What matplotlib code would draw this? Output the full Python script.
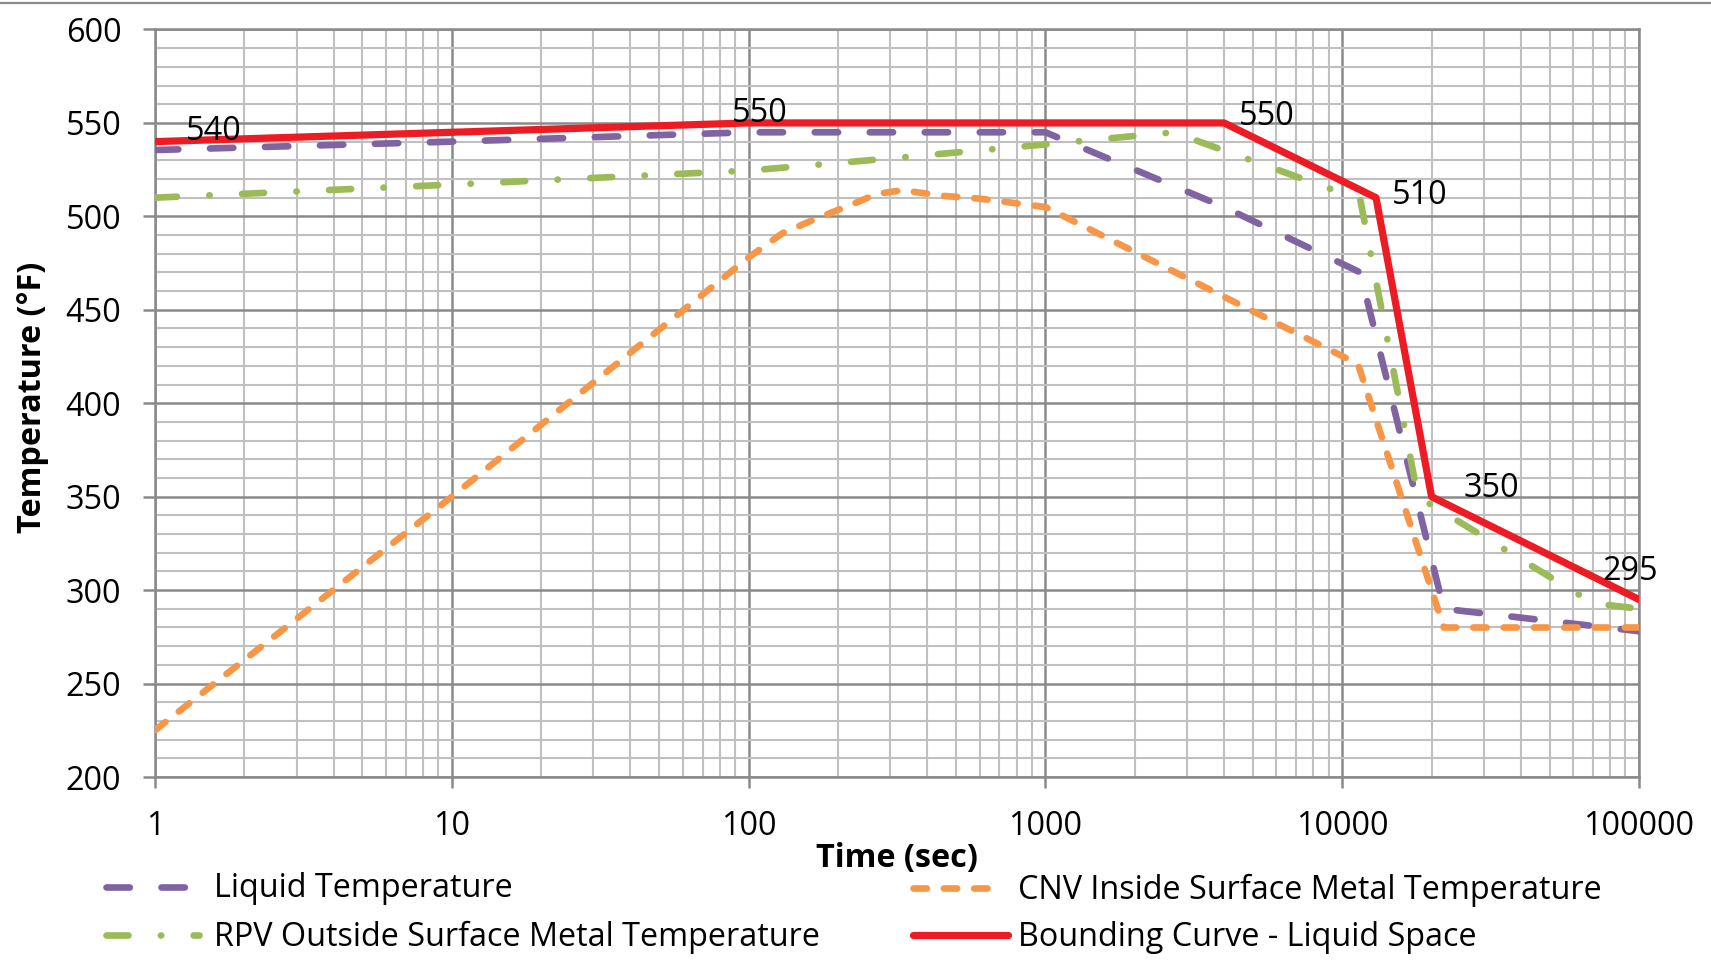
import matplotlib
matplotlib.use("Agg")
import matplotlib.pyplot as plt
from matplotlib.lines import Line2D
from matplotlib.ticker import LogLocator, MultipleLocator, NullFormatter

plt.rcParams['font.family'] = ['Open Sans', 'DejaVu Sans']

# Transient temperatures: time in seconds, temperature in °F
liquid_time = [1, 10, 100, 1000, 4000, 11500, 22000, 100000]
liquid_temp = [535.5, 540, 545, 545, 505, 470, 290, 278]

rpv_time = [1, 10, 100, 300, 1000, 2700, 11500, 18000, 70000, 100000]
rpv_temp = [510, 517, 524.5, 531, 538.5, 545, 509, 350, 293, 290]

cnv_time = [1, 10, 100, 130, 170, 220, 270, 330, 450, 600, 1000, 11300, 22000, 100000]
cnv_temp = [225, 350, 478, 491, 499, 506, 512, 514, 511, 509.5, 505, 421, 280, 280]

bound_time = [1, 100, 4000, 13000, 20000, 100000]
bound_temp = [540, 550, 550, 510, 350, 295]

series_names = ["Liquid Temperature",
                "RPV Outside Surface Metal Temperature",
                "CNV Inside Surface Metal Temperature",
                "Bounding Curve - Liquid Space"]

x_ticks = [1, 10, 100, 1000, 10000, 100000]
x_tick_labels = ["1", "10", "100", "1000", "10000", "100000"]
y_ticks = [200, 250, 300, 350, 400, 450, 500, 550, 600]

W, H = 1711, 972
FS = 23.3
LW = 4.8

fig = plt.figure(figsize=(W / 100, H / 100), dpi=100)
ax = fig.add_axes([155 / W, 1 - 777 / H, (1639 - 155) / W, (777 - 29.5) / H])

styles = {
    "liquid": dict(color="#8064a2", lw=LW, ls=(0, (3.5, 4.75)), dash_capstyle="round"),
    "rpv": dict(color="#9bbb59", lw=LW, ls=(0, (3.3, 4.86, 0.05, 4.86)), dash_capstyle="round"),
    "cnv": dict(color="#f79646", lw=LW, ls=(0, (2.0, 2.55)), dash_capstyle="round"),
    "bound": dict(color="#ed1c24", lw=5.2, ls="-", solid_capstyle="round", solid_joinstyle="round"),
}

ax.plot(liquid_time, liquid_temp, zorder=3, **styles["liquid"])
ax.plot(cnv_time, cnv_temp, zorder=4, **styles["cnv"])
ax.plot(rpv_time, rpv_temp, zorder=5, **styles["rpv"])
ax.plot(bound_time, bound_temp, zorder=6, **styles["bound"])

# value labels on the bounding curve break points
label_offsets = [(22.3, 1.1), (-12.2, 0.9), (10.6, -1.5), (11.7, -4.5), (23.0, 0.0), (-26.6, 14.0)]
for t, v, off in zip(bound_time, bound_temp, label_offsets):
    ax.annotate(f"{v:g}", xy=(t, v), xytext=off, textcoords="offset points",
                ha="left", va="baseline", fontsize=FS, color="black",
                annotation_clip=False, zorder=7)

ax.set_xscale("log")
ax.set_xlim(1, 100000)
ax.set_ylim(200, 600)
ax.set_xticks(x_ticks)
ax.set_xticklabels(x_tick_labels)
ax.xaxis.set_minor_locator(LogLocator(base=10, subs=range(2, 10)))
ax.xaxis.set_minor_formatter(NullFormatter())
ax.set_yticks(y_ticks)
ax.yaxis.set_minor_locator(MultipleLocator(10))

major_grey = "#8a8a8a"
minor_grey = "#c0c0c0"
ax.set_axisbelow(True)
ax.grid(which="major", color=major_grey, lw=1.8)
ax.grid(which="minor", color=minor_grey, lw=1.5)
for sp in ax.spines.values():
    sp.set_color(major_grey)
    sp.set_linewidth(1.8)

ax.tick_params(axis="y", which="major", direction="out", length=8.3, width=1.8,
               color=major_grey, pad=16.0, labelsize=FS)
ax.tick_params(axis="x", which="major", direction="out", length=8.0, width=1.8,
               color=major_grey, pad=15.5, labelsize=FS)
ax.tick_params(which="minor", length=0)

ax.set_xlabel("Time (sec)", fontsize=FS, fontweight="bold", va="center")
ax.xaxis.set_label_coords(0.5, (777 - 858) / (777 - 29.5))
ax.set_ylabel("Temperature (°F)", fontsize=FS, fontweight="bold", va="center", ha="center")
ax.yaxis.set_label_coords((33 - 155) / (1639 - 155), (777 - 397) / (777 - 29.5))

# legend, two columns below the axis title
legend_rows = [
    ("liquid", series_names[0], 106, 199, 214, 886.7),
    ("rpv", series_names[1], 106, 199, 214, 935.0),
    ("cnv", series_names[2], 913, 999, 1018, 888.0),
    ("bound", series_names[3], 913, 1008, 1018, 935.0),
]
for key, name, x0, x1, xt, y in legend_rows:
    st = dict(styles[key])
    fig.add_artist(Line2D([x0 / W, x1 / W], [1 - y / H, 1 - y / H],
                          transform=fig.transFigure, **st))
    fig.text(xt / W, 1 - (y + 10.5) / H, name, fontsize=FS, ha="left", va="baseline")

# thin rule along the top edge
fig.add_artist(Line2D([0, 1], [1 - 2.7 / H] * 2, transform=fig.transFigure,
                      color=major_grey, lw=1.6))

fig.savefig("out.png", dpi=100, facecolor="white")
